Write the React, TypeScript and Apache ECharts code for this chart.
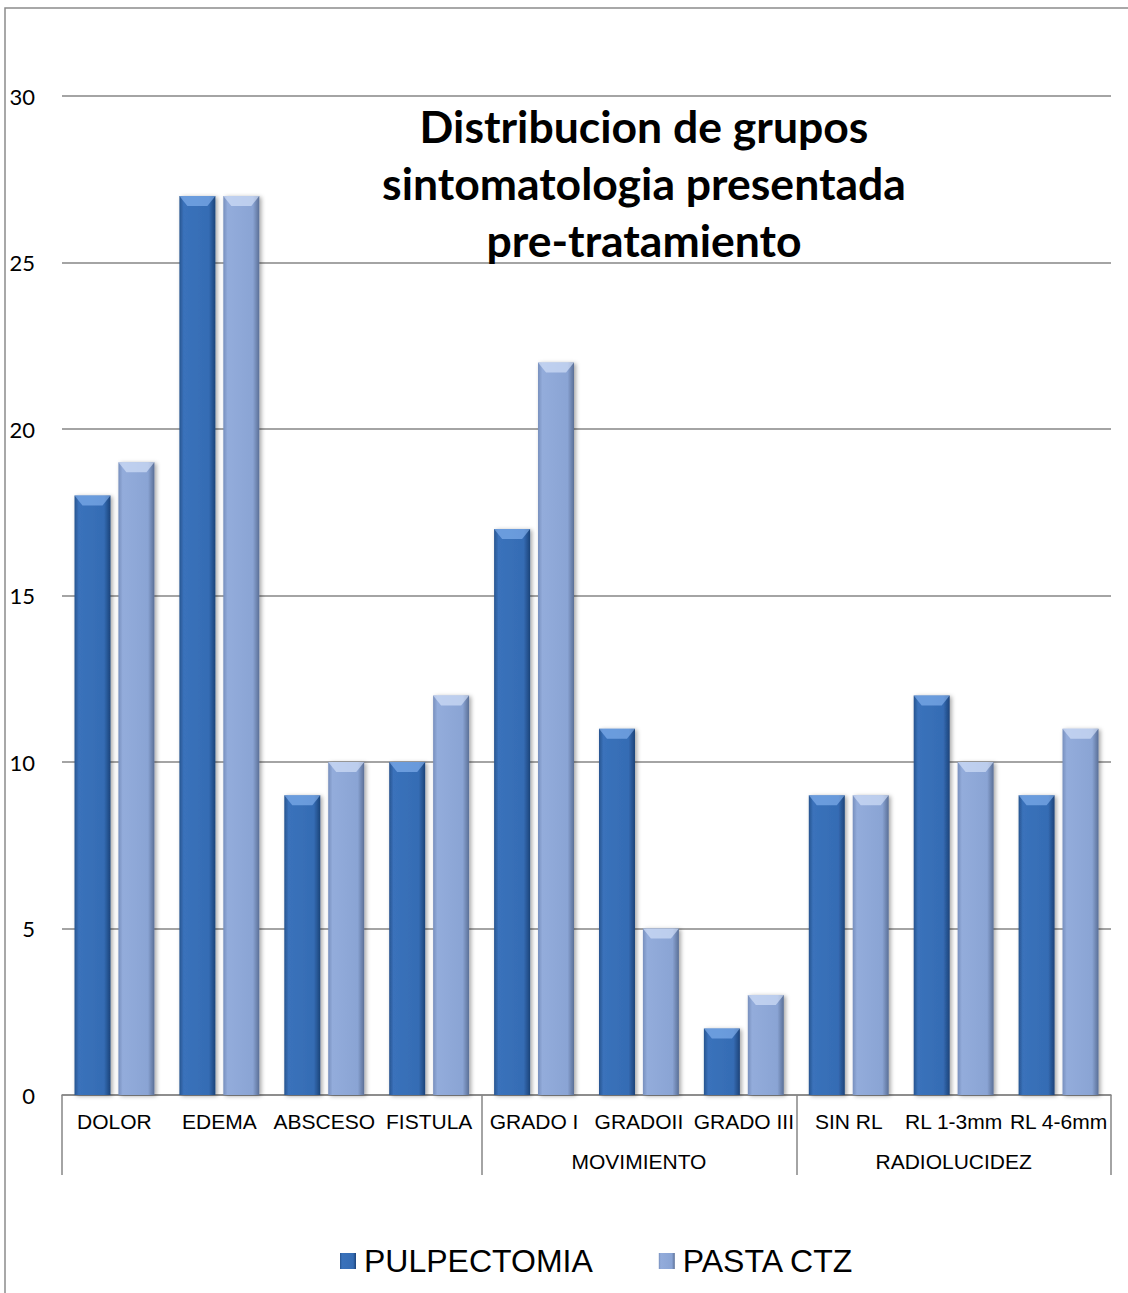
import React, { useEffect, useRef } from "react";
import * as echarts from "echarts";

const categories = ["DOLOR", "EDEMA", "ABSCESO", "FISTULA", "GRADO I", "GRADOII", "GRADO III", "SIN RL", "RL 1-3mm", "RL 4-6mm"];
const groupLabels = ["", "", "", "", "", "MOVIMIENTO", "", "", "RADIOLUCIDEZ", ""];
const groupBoundaries = [0, 4, 7];
const pulpectomia = [18, 27, 9, 10, 17, 11, 2, 9, 12, 9];
const pastaCtz = [19, 27, 10, 12, 22, 5, 3, 9, 10, 11];
const seriesNames = ["PULPECTOMIA", "PASTA CTZ"];
const titleText = "Distribucion de grupos\nsintomatologia presentada\npre-tratamiento";

const darkFill = new echarts.graphic.LinearGradient(0, 0, 1, 0, [
  { offset: 0, color: "#27548f" },
  { offset: 0.12, color: "#3a72bb" },
  { offset: 0.82, color: "#356cb4" },
  { offset: 1, color: "#1c4379" },
]);
const lightFill = new echarts.graphic.LinearGradient(0, 0, 1, 0, [
  { offset: 0, color: "#778fbd" },
  { offset: 0.12, color: "#93acdb" },
  { offset: 0.82, color: "#8aa4d4" },
  { offset: 1, color: "#5a6f96" },
]);

export default function App() {
  const ref = useRef<HTMLDivElement>(null);
  useEffect(() => {
    const chart = echarts.init(ref.current!, undefined, { renderer: "svg" });
    const barCommon = {
      type: "bar" as const,
      barWidth: 36,
      barGap: "22%",
    };
    const bevelPath = "path://M0,0 L36,0 L28,9 L8,9 Z";
    chart.setOption({
      animation: false,
      backgroundColor: "#ffffff",
      grid: { left: 62, right: 17, top: 96, bottom: 198 },
      graphic: [
        {
          type: "rect",
          shape: { x: 5, y: 8, width: 1140, height: 1300 },
          style: { fill: "none", stroke: "#8c8c8c", lineWidth: 1.5 },
          silent: true,
          z: -10,
        },
        {
          type: "text",
          x: 644,
          y: 182,
          z: 10,
          style: {
            text: titleText,
            textAlign: "center",
            textVerticalAlign: "middle",
            font: "bold 44.5px Lato",
            lineHeight: 57,
            fill: "#000000",
          },
        },
      ],
      legend: {
        data: seriesNames,
        left: 335,
        top: 1240,
        icon: "rect",
        itemWidth: 16,
        itemHeight: 16,
        itemGap: 66,
        textStyle: {
          fontFamily: "Liberation Sans",
          fontSize: 32,
          color: "#000000",
          padding: [0, 0, 0, 3],
        },
      },
      xAxis: [
        {
          type: "category",
          data: categories,
          axisLine: { lineStyle: { color: "#868686", width: 1.5 } },
          axisTick: {
            show: true,
            length: 80,
            interval: (index: number) => groupBoundaries.includes(index),
            lineStyle: { color: "#868686", width: 1.5 },
          },
          axisLabel: {
            interval: 0,
            margin: 16,
            fontFamily: "Liberation Sans",
            fontSize: 21,
            color: "#000000",
          },
        },
        {
          type: "category",
          position: "bottom",
          data: groupLabels,
          axisLine: { show: false },
          axisTick: { show: false },
          axisLabel: {
            interval: 0,
            margin: 56,
            fontFamily: "Liberation Sans",
            fontSize: 21,
            color: "#000000",
          },
        },
      ],
      yAxis: {
        type: "value",
        min: 0,
        max: 30,
        interval: 5,
        axisLine: { show: false },
        axisTick: { show: false },
        axisLabel: { margin: 27, fontFamily: "Lato", fontSize: 22, color: "#000000" },
        splitLine: { lineStyle: { color: "#868686", width: 1.5 } },
      },
      series: [
        {
          ...barCommon,
          name: seriesNames[0],
          data: pulpectomia,
          itemStyle: {
            color: darkFill,
            shadowColor: "rgba(0,0,0,0.35)",
            shadowBlur: 4,
            shadowOffsetX: 2,
            shadowOffsetY: 1,
          },
        },
        {
          ...barCommon,
          name: seriesNames[1],
          data: pastaCtz,
          itemStyle: {
            color: lightFill,
            shadowColor: "rgba(0,0,0,0.35)",
            shadowBlur: 4,
            shadowOffsetX: 2,
            shadowOffsetY: 1,
          },
        },
        {
          type: "pictorialBar",
          name: "bevel1",
          barWidth: 36,
          barGap: "22%",
          symbol: bevelPath,
          symbolSize: [36, 10],
          symbolPosition: "end",
          z: 5,
          silent: true,
          data: pulpectomia,
          itemStyle: { color: "rgba(140,185,245,0.6)" },
        },
        {
          type: "pictorialBar",
          name: "bevel2",
          barWidth: 36,
          barGap: "22%",
          symbol: bevelPath,
          symbolSize: [36, 10],
          symbolPosition: "end",
          z: 5,
          silent: true,
          data: pastaCtz,
          itemStyle: { color: "rgba(215,228,250,0.65)" },
        },
      ],
    });
    return () => chart.dispose();
  }, []);
  return (
    <div
      ref={ref}
      style={{ position: "absolute", left: 0, top: 0, width: 1128, height: 1293 }}
    />
  );
}
